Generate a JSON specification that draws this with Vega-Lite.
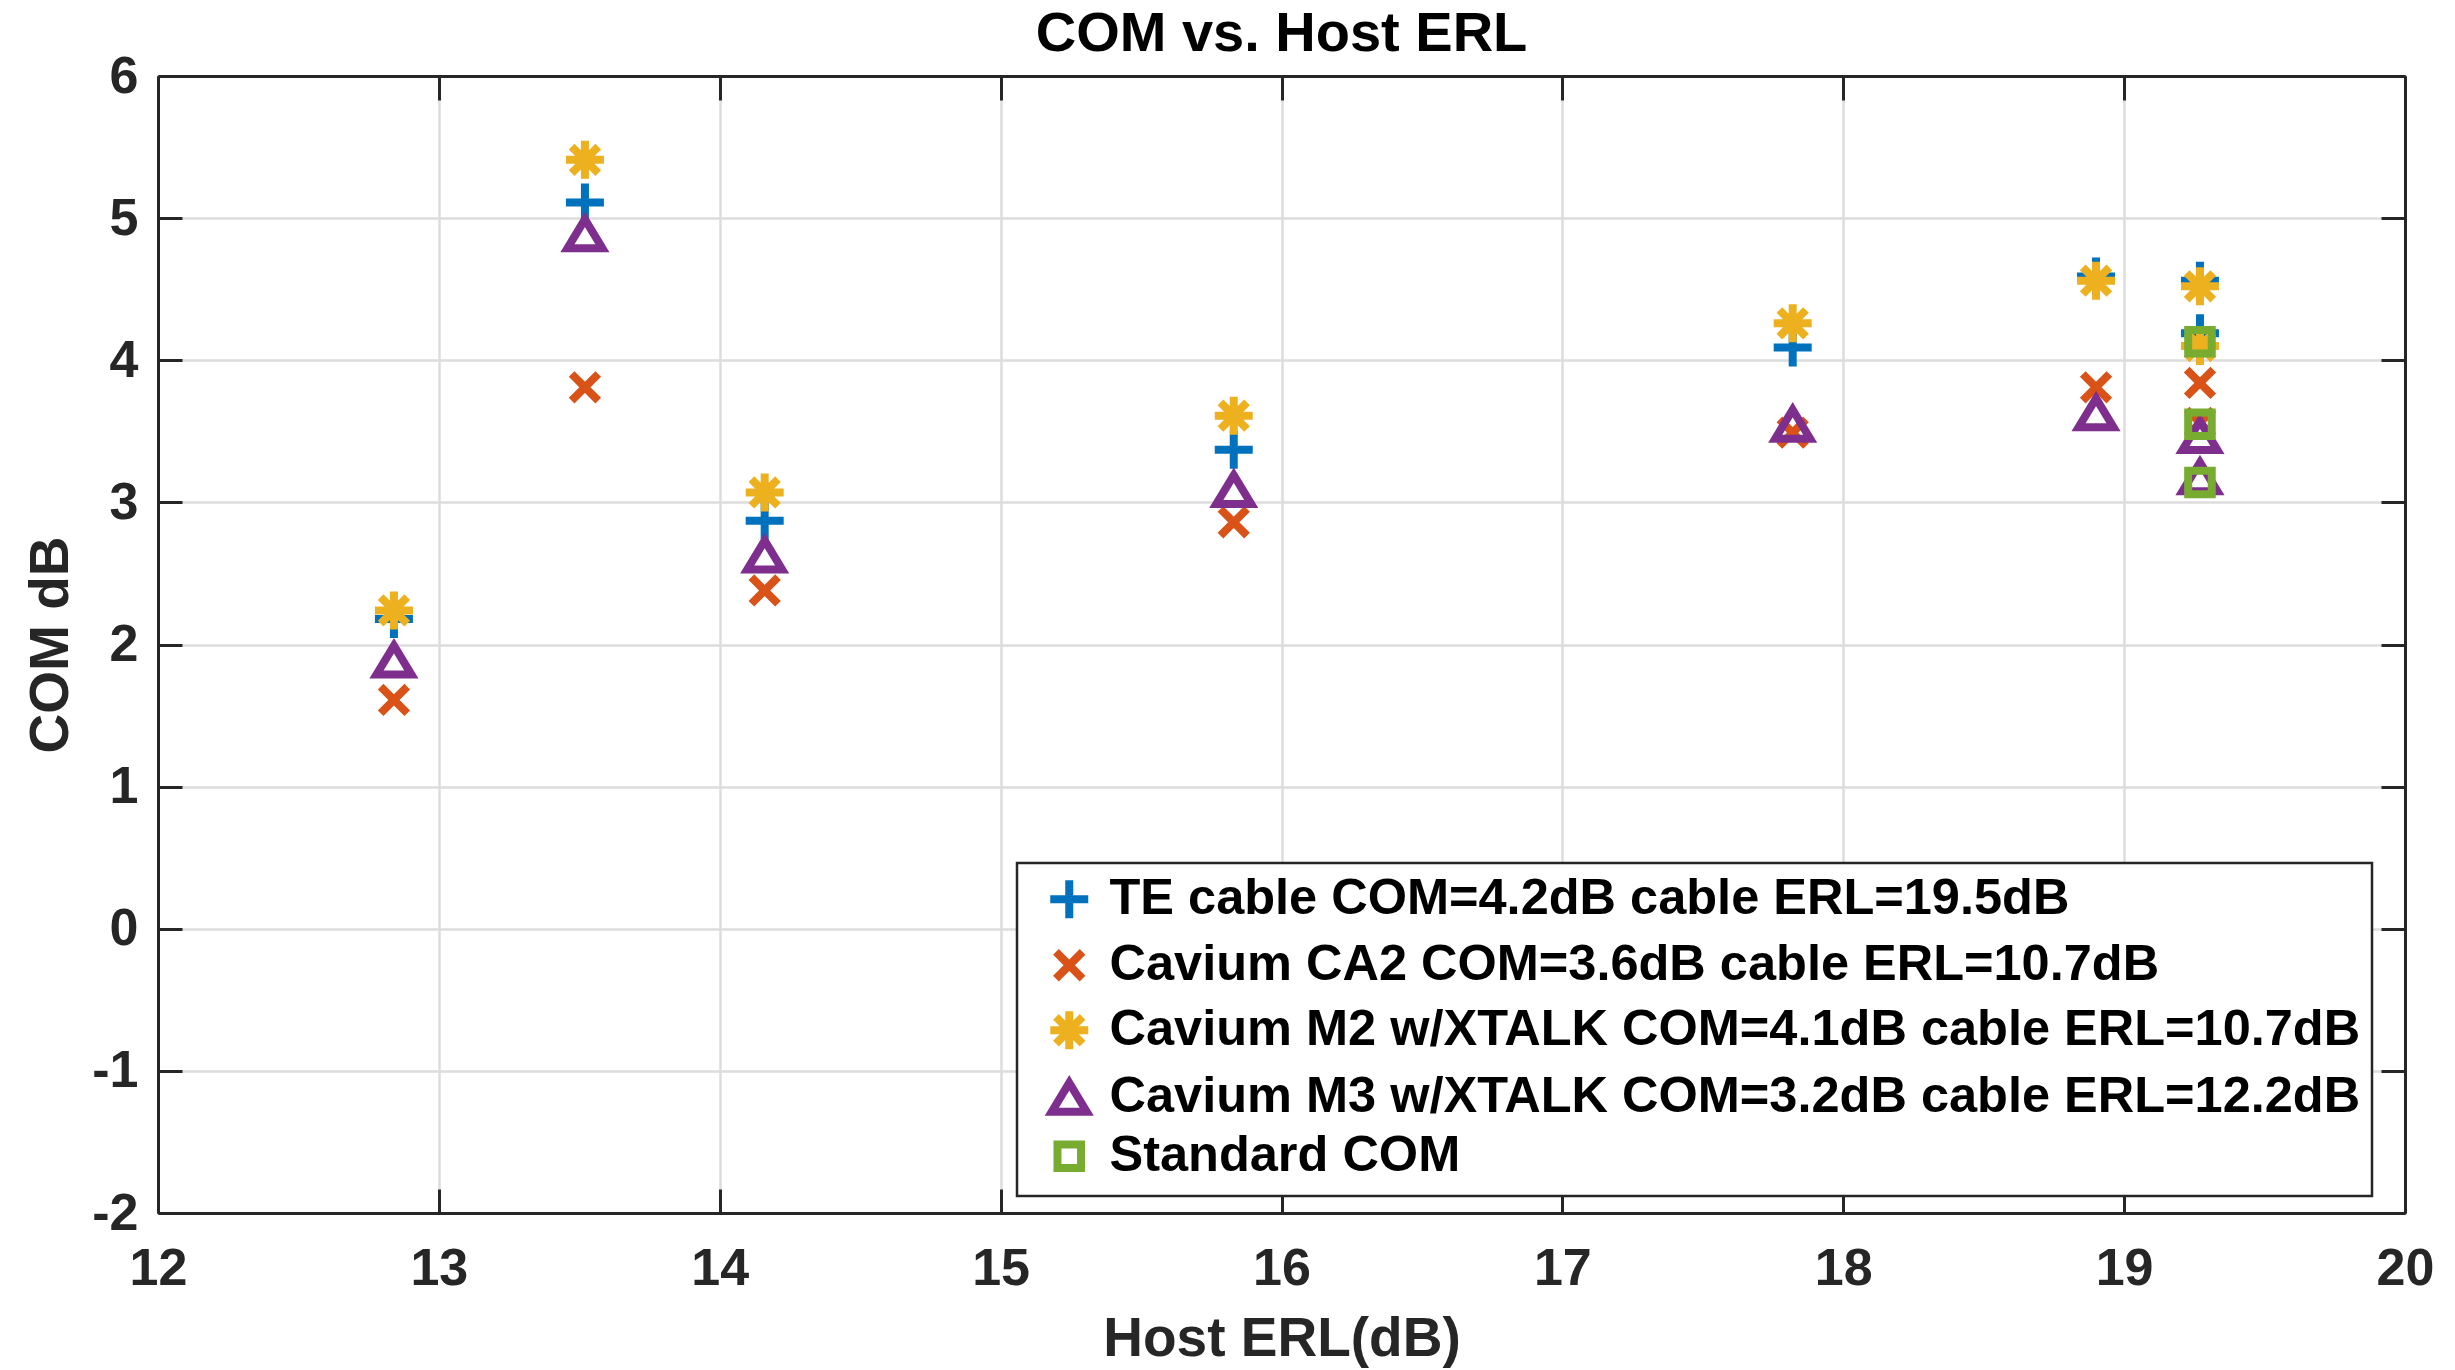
{
  "$schema": "https://vega.github.io/schema/vega-lite/v6.json",
  "width": 2247,
  "height": 1137,
  "autosize": {"type": "none"},
  "padding": {"left": 158, "top": 76, "right": 50, "bottom": 157},
  "background": "white",
  "title": {
    "text": "COM vs. Host ERL",
    "font": "Liberation Sans",
    "fontSize": 56,
    "fontWeight": "bold",
    "color": "#000000",
    "anchor": "middle",
    "baseline": "alphabetic",
    "offset": -57
  },
  "config": {
    "view": {"stroke": null},
    "font": "Liberation Sans",
    "axis": {
      "grid": true,
      "gridColor": "#dcdcdc",
      "gridWidth": 2.5,
      "domainColor": "#262626",
      "domainWidth": 3,
      "tickColor": "#262626",
      "tickWidth": 3,
      "tickSize": -24,
      "labelFlush": false,
      "labelFont": "Liberation Sans",
      "labelFontSize": 52,
      "labelFontWeight": "bold",
      "labelColor": "#262626",
      "labelExpr": "'' + datum.value",
      "titleFont": "Liberation Sans",
      "titleFontSize": 55,
      "titleFontWeight": "bold",
      "titleColor": "#262626"
    },
    "legend": {
      "orient": "none",
      "legendX": 859,
      "legendY": 787,
      "strokeColor": "#262626",
      "strokeWidth": 2.5,
      "fillColor": "white",
      "padding": 11,
      "symbolOffset": 16,
      "labelOffset": 15,
      "labelFont": "Liberation Sans",
      "labelFontSize": 50.5,
      "labelFontWeight": "bold",
      "labelColor": "#000000",
      "labelLimit": 0,
      "symbolSize": 1444,
      "symbolStrokeWidth": 8,
      "rowPadding": 0
    }
  },
  "data": {
    "values": [
      {"series": "TE cable COM=4.2dB cable ERL=19.5dB", "erl": 12.84, "com": 2.18},
      {"series": "TE cable COM=4.2dB cable ERL=19.5dB", "erl": 13.52, "com": 5.11},
      {"series": "TE cable COM=4.2dB cable ERL=19.5dB", "erl": 14.16, "com": 2.87},
      {"series": "TE cable COM=4.2dB cable ERL=19.5dB", "erl": 15.83, "com": 3.37},
      {"series": "TE cable COM=4.2dB cable ERL=19.5dB", "erl": 17.82, "com": 4.09},
      {"series": "TE cable COM=4.2dB cable ERL=19.5dB", "erl": 18.9, "com": 4.59},
      {"series": "TE cable COM=4.2dB cable ERL=19.5dB", "erl": 19.27, "com": 4.56},
      {"series": "TE cable COM=4.2dB cable ERL=19.5dB", "erl": 19.27, "com": 4.19},
      {"series": "Cavium CA2 COM=3.6dB cable ERL=10.7dB", "erl": 12.84, "com": 1.61},
      {"series": "Cavium CA2 COM=3.6dB cable ERL=10.7dB", "erl": 13.52, "com": 3.81},
      {"series": "Cavium CA2 COM=3.6dB cable ERL=10.7dB", "erl": 14.16, "com": 2.38},
      {"series": "Cavium CA2 COM=3.6dB cable ERL=10.7dB", "erl": 15.83, "com": 2.86},
      {"series": "Cavium CA2 COM=3.6dB cable ERL=10.7dB", "erl": 17.82, "com": 3.49},
      {"series": "Cavium CA2 COM=3.6dB cable ERL=10.7dB", "erl": 18.9, "com": 3.81},
      {"series": "Cavium CA2 COM=3.6dB cable ERL=10.7dB", "erl": 19.27, "com": 3.84},
      {"series": "Cavium CA2 COM=3.6dB cable ERL=10.7dB", "erl": 19.27, "com": 3.56},
      {"series": "Cavium M2 w/XTALK COM=4.1dB cable ERL=10.7dB", "erl": 12.84, "com": 2.24},
      {"series": "Cavium M2 w/XTALK COM=4.1dB cable ERL=10.7dB", "erl": 13.52, "com": 5.41},
      {"series": "Cavium M2 w/XTALK COM=4.1dB cable ERL=10.7dB", "erl": 14.16, "com": 3.07},
      {"series": "Cavium M2 w/XTALK COM=4.1dB cable ERL=10.7dB", "erl": 15.83, "com": 3.61},
      {"series": "Cavium M2 w/XTALK COM=4.1dB cable ERL=10.7dB", "erl": 17.82, "com": 4.26},
      {"series": "Cavium M2 w/XTALK COM=4.1dB cable ERL=10.7dB", "erl": 18.9, "com": 4.56},
      {"series": "Cavium M2 w/XTALK COM=4.1dB cable ERL=10.7dB", "erl": 19.27, "com": 4.52},
      {"series": "Cavium M2 w/XTALK COM=4.1dB cable ERL=10.7dB", "erl": 19.27, "com": 4.1},
      {"series": "Cavium M3 w/XTALK COM=3.2dB cable ERL=12.2dB", "erl": 12.84, "com": 1.89},
      {"series": "Cavium M3 w/XTALK COM=3.2dB cable ERL=12.2dB", "erl": 13.52, "com": 4.89},
      {"series": "Cavium M3 w/XTALK COM=3.2dB cable ERL=12.2dB", "erl": 14.16, "com": 2.63},
      {"series": "Cavium M3 w/XTALK COM=3.2dB cable ERL=12.2dB", "erl": 15.83, "com": 3.09},
      {"series": "Cavium M3 w/XTALK COM=3.2dB cable ERL=12.2dB", "erl": 17.82, "com": 3.55},
      {"series": "Cavium M3 w/XTALK COM=3.2dB cable ERL=12.2dB", "erl": 18.9, "com": 3.63},
      {"series": "Cavium M3 w/XTALK COM=3.2dB cable ERL=12.2dB", "erl": 19.27, "com": 3.47},
      {"series": "Cavium M3 w/XTALK COM=3.2dB cable ERL=12.2dB", "erl": 19.27, "com": 3.18},
      {"series": "Standard COM", "erl": 19.27, "com": 4.13},
      {"series": "Standard COM", "erl": 19.27, "com": 3.55},
      {"series": "Standard COM", "erl": 19.27, "com": 3.14}
    ]
  },
  "layer": [
    {
      "mark": {"type": "point", "filled": false, "strokeWidth": 8, "size": 1444, "opacity": 1},
      "encoding": {
        "x": {
          "field": "erl", "type": "quantitative",
          "scale": {"domain": [12, 20], "nice": false, "zero": false},
          "axis": {"values": [12, 13, 14, 15, 16, 17, 18, 19, 20], "title": "Host ERL(dB)", "labelPadding": 54, "titlePadding": 18}
        },
        "y": {
          "field": "com", "type": "quantitative",
          "scale": {"domain": [-2, 6], "nice": false, "zero": false},
          "axis": {"values": [-2, -1, 0, 1, 2, 3, 4, 5, 6], "title": "COM dB", "labelPadding": 44, "titlePadding": 12}
        },
        "color": {
          "field": "series", "type": "nominal",
          "scale": {
            "domain": ["TE cable COM=4.2dB cable ERL=19.5dB", "Cavium CA2 COM=3.6dB cable ERL=10.7dB", "Cavium M2 w/XTALK COM=4.1dB cable ERL=10.7dB", "Cavium M3 w/XTALK COM=3.2dB cable ERL=12.2dB", "Standard COM"],
            "range": ["#0072BD", "#D95319", "#EDB120", "#7E2F8E", "#77AC30"]
          },
          "legend": {"title": null}
        },
        "shape": {
          "field": "series", "type": "nominal",
          "scale": {
            "domain": ["TE cable COM=4.2dB cable ERL=19.5dB", "Cavium CA2 COM=3.6dB cable ERL=10.7dB", "Cavium M2 w/XTALK COM=4.1dB cable ERL=10.7dB", "Cavium M3 w/XTALK COM=3.2dB cable ERL=12.2dB", "Standard COM"],
            "range": [
              "M-1,0L1,0M0,-1L0,1",
              "M-0.7,-0.7L0.7,0.7M-0.7,0.7L0.7,-0.7",
              "M-1,0L1,0M0,-1L0,1M-0.7,-0.7L0.7,0.7M-0.7,0.7L0.7,-0.7",
              "M0,-0.76L0.92,0.76L-0.92,0.76Z",
              "M-0.62,-0.62L0.62,-0.62L0.62,0.62L-0.62,0.62Z"
            ]
          },
          "legend": {"title": null}
        }
      }
    },
    {
      "mark": {"type": "point", "opacity": 0},
      "encoding": {
        "x": {
          "field": "erl", "type": "quantitative",
          "axis": {"orient": "top", "values": [12, 13, 14, 15, 16, 17, 18, 19, 20], "labels": false, "title": null, "grid": false}
        },
        "y": {
          "field": "com", "type": "quantitative",
          "axis": {"orient": "right", "values": [-2, -1, 0, 1, 2, 3, 4, 5, 6], "labels": false, "title": null, "grid": false}
        }
      }
    }
  ],
  "resolve": {"axis": {"x": "independent", "y": "independent"}}
}
